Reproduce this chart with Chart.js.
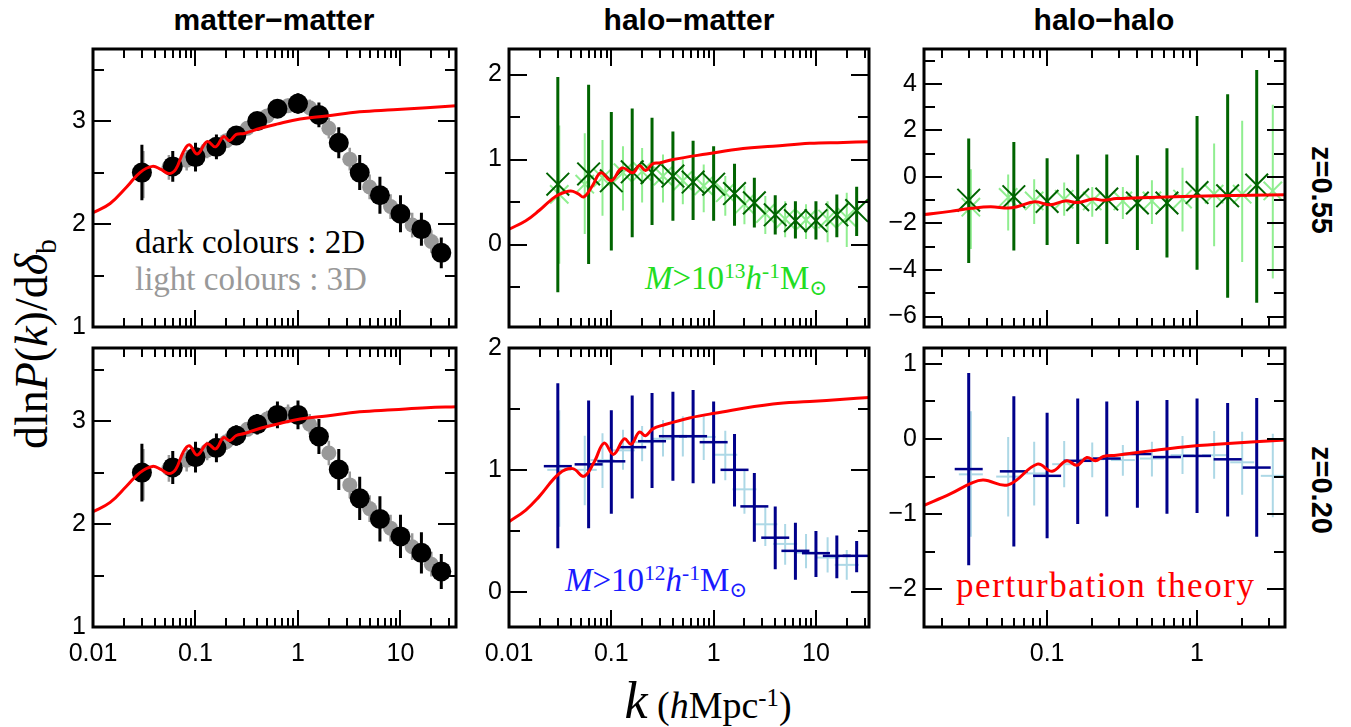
<!DOCTYPE html>
<html>
<head>
<meta charset="utf-8">
<script src="https://cdn.jsdelivr.net/npm/chart.js@4.4.1/dist/chart.umd.min.js"></script>
<style>
body { margin: 0; background: #fff; }
#fig { position: relative; width: 1351px; height: 727px; overflow: hidden; font-family: "Liberation Sans", Arial, sans-serif; }
#fig canvas { position: absolute; }
.lbl { position: absolute; white-space: nowrap; line-height: 1; }
.title { font-size: 30px; font-weight: bold; transform: translateX(-50%); }
.side { font-size: 29px; font-weight: bold; transform: translate(-50%, -50%) rotate(90deg); }
.serif { font-family: "Liberation Serif", "DejaVu Serif", serif; }
.ylab { font-size: 46px; transform: translate(-50%, -50%) rotate(-90deg); }
.xlab { font-size: 38px; transform: translateX(-50%); }
.sup { position: relative; top: -0.5em; font-size: 0.65em; }
.sub { position: relative; top: 0.3em; font-size: 0.65em; }
</style>
</head>
<body>
<div id="fig">
  <div class="lbl title" style="left:274px;top:5px">matter−matter</div>
  <div class="lbl title" style="left:689px;top:5px">halo−matter</div>
  <div class="lbl title" style="left:1104px;top:5px">halo−halo</div>
  <div class="lbl side" style="left:1321px;top:190px">z=0.55</div>
  <div class="lbl side" style="left:1321px;top:490px">z=0.20</div>
  <div class="lbl ylab serif" style="left:32px;top:344px">dln<i>P</i>(<i>k</i>)/d<i>δ</i><span class="sub">b</span></div>
  <div class="lbl xlab serif" style="left:708px;top:675px"><i style="font-size:52px">k</i> (<i>h</i>Mpc<span class="sup">-1</span>)</div>
  <div class="lbl serif" style="left:135px;top:226px;font-size:33px;color:#000">dark colours : 2D</div>
  <div class="lbl serif" style="left:135px;top:263px;font-size:33px;color:#999">light colours : 3D</div>
  <div class="lbl serif" style="left:645px;top:262px;font-size:33px;color:#22dd22"><i>M</i>&gt;10<span class="sup">13</span><i>h</i><span class="sup">-1</span>M<span class="sub">⊙</span></div>
  <div class="lbl serif" style="left:565px;top:564px;font-size:33px;color:#1a1aff"><i>M</i>&gt;10<span class="sup">12</span><i>h</i><span class="sup">-1</span>M<span class="sub">⊙</span></div>
  <div class="lbl serif" style="left:956px;top:568px;font-size:35px;letter-spacing:1.6px;color:#ff0000">perturbation theory</div>
</div>
<script>
// k bins (h/Mpc): 2D measurements and 3D measurements
const k2D = [0.03, 0.06, 0.1, 0.16, 0.25, 0.4, 0.63, 1.0, 1.6, 2.5, 4.0, 6.3, 10, 16, 25];
const k3D = [0.031, 0.055, 0.082, 0.13, 0.2, 0.32, 0.5, 0.8, 1.3, 2.0, 3.2, 5.0, 8.0, 13, 20];
const kHalo2D = [0.03, 0.06, 0.1, 0.16, 0.25, 0.4, 0.63, 1.0, 1.6, 2.5];
const kHalo3D = [0.031, 0.055, 0.082, 0.13, 0.2, 0.32, 0.5, 0.8, 1.3, 2.0, 3.2];

// matter-matter, z=0.55
const mm055_2D = [2.50, 2.56, 2.65, 2.75, 2.86, 3.00, 3.12, 3.17, 3.06, 2.79, 2.50, 2.28, 2.10, 1.95, 1.72];
const mm055_2Derr = [0.27, 0.15, 0.14, 0.12, 0.09, 0.07, 0.08, 0.10, 0.12, 0.15, 0.17, 0.18, 0.18, 0.16, 0.15];
const mm055_3D = [2.48, 2.55, 2.62, 2.72, 2.81, 2.93, 3.05, 3.15, 3.13, 2.93, 2.63, 2.36, 2.17, 1.99, 1.83];
const mm055_3Derr = [0.23, 0.12, 0.10, 0.08, 0.07, 0.06, 0.06, 0.07, 0.08, 0.10, 0.11, 0.12, 0.12, 0.12, 0.11];
// matter-matter, z=0.20
const mm020_2D = [2.50, 2.55, 2.65, 2.74, 2.86, 2.97, 3.06, 3.06, 2.85, 2.53, 2.25, 2.05, 1.88, 1.72, 1.54];
const mm020_2Derr = [0.28, 0.16, 0.15, 0.14, 0.10, 0.10, 0.13, 0.14, 0.17, 0.20, 0.21, 0.22, 0.21, 0.20, 0.17];
const mm020_3D = [2.48, 2.54, 2.62, 2.71, 2.80, 2.92, 3.02, 3.07, 2.97, 2.69, 2.38, 2.15, 1.96, 1.78, 1.61];
const mm020_3Derr = [0.25, 0.13, 0.11, 0.09, 0.08, 0.07, 0.08, 0.09, 0.10, 0.12, 0.13, 0.13, 0.13, 0.13, 0.12];

// halo-matter, z=0.55 (M > 1e13)
const hm055_2D = [0.71, 0.83, 0.75, 0.855, 0.845, 0.805, 0.735, 0.71, 0.60, 0.49, 0.35, 0.28, 0.28, 0.35, 0.40];
const hm055_2Dlo = [-0.56, -0.23, -0.07, 0.085, 0.23, 0.28, 0.29, 0.28, 0.22, 0.20, 0.117, 0.07, 0.06, 0.085, 0.10];
const hm055_2Dhi = [1.97, 1.88, 1.56, 1.60, 1.49, 1.33, 1.22, 1.155, 0.95, 0.785, 0.58, 0.51, 0.51, 0.59, 0.68];
const hm055_3D = [0.59, 0.71, 0.785, 0.845, 0.86, 0.805, 0.75, 0.69, 0.61, 0.475, 0.365, 0.30, 0.29, 0.30, 0.32];
const hm055_3Dlo = [-0.225, 0.125, 0.34, 0.40, 0.495, 0.495, 0.475, 0.38, 0.34, 0.24, 0.125, 0.085, 0.066, 0.027, -0.03];
const hm055_3Dhi = [1.40, 1.31, 1.23, 1.155, 1.135, 1.06, 1.0, 0.94, 0.805, 0.69, 0.57, 0.51, 0.475, 0.51, 0.61];
// halo-matter, z=0.20 (M > 1e12)
const hm020_2D = [1.03, 1.045, 1.07, 1.186, 1.235, 1.276, 1.276, 1.227, 1.0, 0.70, 0.443, 0.335, 0.316, 0.294, 0.294];
const hm020_2Dlo = [0.357, 0.52, 0.64, 0.765, 0.85, 0.91, 0.89, 0.887, 0.70, 0.41, 0.185, 0.098, 0.12, 0.11, 0.16];
const hm020_2Dhi = [1.71, 1.57, 1.49, 1.61, 1.63, 1.64, 1.655, 1.56, 1.295, 0.974, 0.70, 0.566, 0.498, 0.46, 0.416];
const hm020_3D = [1.0, 1.0, 1.08, 1.16, 1.227, 1.255, 1.27, 1.27, 1.124, 0.84, 0.553, 0.392, 0.32, 0.28, 0.22];
const hm020_3Dlo = [0.533, 0.71, 0.85, 1.0, 1.07, 1.11, 1.11, 1.08, 0.914, 0.64, 0.375, 0.22, 0.193, 0.158, 0.098];
const hm020_3Dhi = [1.49, 1.28, 1.30, 1.33, 1.36, 1.41, 1.44, 1.445, 1.32, 1.0, 0.70, 0.555, 0.473, 0.446, 0.343];

// halo-halo, z=0.55
const hh055_2D = [-1.0, -0.85, -1.05, -0.98, -0.95, -1.12, -1.12, -0.67, -0.81, -0.35];
const hh055_2Dlo = [-3.7, -3.16, -2.92, -2.88, -2.88, -3.14, -3.46, -3.99, -5.19, -5.41];
const hh055_2Dhi = [1.65, 1.5, 0.8, 0.97, 0.97, 0.93, 1.23, 2.62, 3.55, 4.6];
const hh055_3D = [-1.3, -0.88, -1.03, -0.96, -1.03, -1.03, -1.03, -0.95, -0.74, -0.74, -0.6];
const hh055_3Dlo = [-3.1, -2.3, -2.02, -1.67, -1.71, -1.81, -2.02, -2.34, -2.98, -3.66, -4.37];
const hh055_3Dhi = [0.33, 0.11, -0.1, -0.24, -0.43, -0.43, -0.14, 0.4, 1.44, 2.42, 3.1];
// halo-halo, z=0.20
const hh020_2D = [-0.40, -0.43, -0.49, -0.29, -0.26, -0.20, -0.24, -0.225, -0.27, -0.38];
const hh020_2Dlo = [-1.68, -1.43, -1.32, -1.13, -1.03, -0.915, -0.995, -0.985, -1.03, -1.30];
const hh020_2Dhi = [0.876, 0.568, 0.35, 0.537, 0.50, 0.51, 0.52, 0.537, 0.48, 0.546];
const hh020_3D = [-0.47, -0.50, -0.458, -0.335, -0.27, -0.28, -0.26, -0.215, -0.215, -0.31, -0.49];
const hh020_3Dlo = [-1.30, -1.03, -0.885, -0.643, -0.51, -0.489, -0.50, -0.467, -0.53, -0.74, -1.04];
const hh020_3Dhi = [0.37, 0.026, -0.035, -0.026, -0.048, -0.079, -0.035, 0.04, 0.106, 0.097, 0.07];

// perturbation theory curves
const kPT_mm = [0.01, 0.0147, 0.0213, 0.0287, 0.038, 0.046, 0.055, 0.064, 0.076, 0.087, 0.104, 0.13, 0.157, 0.188, 0.215, 0.25, 0.3, 0.43, 0.62, 1.05, 1.9, 4.0, 8.5, 18, 35];
const pt_mm055 = [2.11, 2.20, 2.36, 2.50, 2.56, 2.53, 2.49, 2.53, 2.70, 2.77, 2.68, 2.80, 2.75, 2.85, 2.81, 2.87, 2.88, 2.93, 2.97, 3.02, 3.05, 3.09, 3.11, 3.13, 3.15];
const pt_mm020 = [2.12, 2.21, 2.37, 2.50, 2.56, 2.53, 2.49, 2.53, 2.70, 2.76, 2.67, 2.78, 2.73, 2.84, 2.81, 2.86, 2.88, 2.93, 2.97, 3.02, 3.05, 3.09, 3.11, 3.13, 3.14];
const kPT_hm = [0.01, 0.0146, 0.0197, 0.0255, 0.031, 0.04, 0.047, 0.054, 0.066, 0.079, 0.1, 0.127, 0.163, 0.188, 0.216, 0.254, 0.296, 0.4, 0.85, 1.94, 3.8, 8.7, 18.5, 33];
const pt_hm055 = [0.18, 0.28, 0.40, 0.52, 0.59, 0.63, 0.60, 0.56, 0.70, 0.845, 0.75, 0.90, 0.845, 0.93, 0.87, 0.95, 0.96, 1.0, 1.065, 1.13, 1.155, 1.19, 1.20, 1.21];
const kPT_hm2 = [0.01, 0.0146, 0.0197, 0.031, 0.042, 0.054, 0.068, 0.085, 0.105, 0.134, 0.156, 0.188, 0.216, 0.254, 0.33, 0.58, 1.02, 3.8, 8.7, 18.5, 34];
const pt_hm020 = [0.574, 0.67, 0.78, 0.97, 1.01, 0.947, 1.064, 1.22, 1.127, 1.255, 1.21, 1.31, 1.28, 1.336, 1.37, 1.426, 1.464, 1.54, 1.56, 1.58, 1.594];
const kPT_hh = [0.015, 0.0226, 0.031, 0.042, 0.055, 0.063, 0.083, 0.105, 0.132, 0.16, 0.204, 0.237, 0.29, 0.486, 1.35, 3.9];
const pt_hh055 = [-1.62, -1.48, -1.35, -1.28, -1.34, -1.28, -1.07, -1.2, -1.03, -1.1, -0.95, -1.0, -0.93, -0.88, -0.81, -0.77];
const kPT_hh2 = [0.015, 0.0226, 0.031, 0.0376, 0.055, 0.086, 0.108, 0.135, 0.158, 0.184, 0.21, 0.237, 0.29, 0.486, 0.81, 1.35, 3.9];
const pt_hh020 = [-0.885, -0.73, -0.59, -0.546, -0.61, -0.335, -0.43, -0.29, -0.35, -0.247, -0.29, -0.233, -0.215, -0.158, -0.106, -0.07, -0.013];

// axis ticks
const xLabelsWide = [0.01, 0.1, 1, 10];
const xLabelsHalo = [0.1, 1];
const yTicksMM = [1, 2, 3], yMinorMM = [1.5, 2.5, 3.5];
const yTicksHM055 = [0, 1, 2], yMinorHM055 = [-0.5, 0.5, 1.5];
const yTicksHH055 = [-6, -4, -2, 0, 2, 4], yMinorHH055 = [-5, -3, -1, 1, 3, 5];
const yTicksHM020 = [0, 1, 2], yMinorHM020 = [0.5, 1.5];
const yTicksHH020 = [-2, -1, 0, 1], yMinorHH020 = [-1.5, -0.5, 0.5];

const PAD_L = 70, PAD_T = 20, PAD_R = 20, PAD_B = 45;
const RED = '#ff0000';

function pts(ks, ys) { return ks.map((k, i) => ({ x: k, y: ys[i] })); }

function series(ks, ys, lo, hi, st) {
  return {
    data: pts(ks, ys), errLo: lo, errHi: hi, errColor: st.color, errWidth: st.errWidth,
    pointStyle: st.shape, pointRadius: st.r, backgroundColor: st.color,
    borderColor: st.color, borderWidth: st.bw, order: st.order
  };
}

function curve(ks, ys) {
  return { data: pts(ks, ys), showLine: true, borderColor: RED, borderWidth: 3, pointRadius: 0, tension: 0.4, order: 0 };
}

const black = { color: '#000', shape: 'circle', r: 10, bw: 0, errWidth: 3, order: 1 };
const grey = { color: '#999', shape: 'circle', r: 7.5, bw: 0, errWidth: 2.5, order: 2 };
const dkGreen = { color: '#006400', shape: 'crossRot', r: 16, bw: 2, errWidth: 3, order: 1 };
const ltGreen = { color: '#90ee90', shape: 'crossRot', r: 13, bw: 2, errWidth: 2, order: 2 };
const dkBlue = { color: '#00008b', shape: 'line', r: 14, bw: 2.5, errWidth: 3, order: 1 };
const ltBlue = { color: '#add8e6', shape: 'line', r: 12, bw: 2, errWidth: 2, order: 2 };

const lo = (ys, es) => ys.map((y, i) => y - es[i]);
const hi = (ys, es) => ys.map((y, i) => y + es[i]);

const panels = [
  { rect: [93, 47, 456, 327], x: [0.01, 34.8], y: [1, 3.7], xLabels: null, yTicks: yTicksMM, yMinor: yMinorMM,
    datasets: [series(k3D, mm055_3D, lo(mm055_3D, mm055_3Derr), hi(mm055_3D, mm055_3Derr), grey),
               series(k2D, mm055_2D, lo(mm055_2D, mm055_2Derr), hi(mm055_2D, mm055_2Derr), black),
               curve(kPT_mm, pt_mm055)] },
  { rect: [509, 47, 869, 327], x: [0.01, 33], y: [-0.97, 2.3], xLabels: null, yTicks: yTicksHM055, yMinor: yMinorHM055,
    datasets: [series(k3D, hm055_3D, hm055_3Dlo, hm055_3Dhi, ltGreen),
               series(k2D, hm055_2D, hm055_2Dlo, hm055_2Dhi, dkGreen),
               curve(kPT_hm, pt_hm055)] },
  { rect: [924, 47, 1285, 327], x: [0.0151, 3.86], y: [-6.45, 5.5], xLabels: null, yTicks: yTicksHH055, yMinor: yMinorHH055,
    datasets: [series(kHalo3D, hh055_3D, hh055_3Dlo, hh055_3Dhi, ltGreen),
               series(kHalo2D, hh055_2D, hh055_2Dlo, hh055_2Dhi, dkGreen),
               curve(kPT_hh, pt_hh055)] },
  { rect: [93, 346, 456, 627], x: [0.01, 34.8], y: [1, 3.71], xLabels: xLabelsWide, yTicks: yTicksMM, yMinor: yMinorMM,
    datasets: [series(k3D, mm020_3D, lo(mm020_3D, mm020_3Derr), hi(mm020_3D, mm020_3Derr), grey),
               series(k2D, mm020_2D, lo(mm020_2D, mm020_2Derr), hi(mm020_2D, mm020_2Derr), black),
               curve(kPT_mm, pt_mm020)] },
  { rect: [509, 346, 869, 627], x: [0.01, 33], y: [-0.29, 2.0], xLabels: xLabelsWide, yTicks: yTicksHM020, yMinor: yMinorHM020,
    datasets: [series(k3D, hm020_3D, hm020_3Dlo, hm020_3Dhi, ltBlue),
               series(k2D, hm020_2D, hm020_2Dlo, hm020_2Dhi, dkBlue),
               curve(kPT_hm2, pt_hm020)] },
  { rect: [924, 346, 1285, 627], x: [0.0151, 3.86], y: [-2.5, 1.21], xLabels: xLabelsHalo, yTicks: yTicksHH020, yMinor: yMinorHH020,
    datasets: [series(kHalo3D, hh020_3D, hh020_3Dlo, hh020_3Dhi, ltBlue),
               series(kHalo2D, hh020_2D, hh020_2Dlo, hh020_2Dhi, dkBlue),
               curve(kPT_hh2, pt_hh020)] }
];

// vertical error bars, drawn just before each dataset's markers
const errorBars = {
  id: 'errorBars',
  beforeDatasetDraw(chart, args) {
    const ds = chart.data.datasets[args.index];
    if (!ds.errLo) return;
    const { ctx, chartArea: a, scales: { x, y } } = chart;
    ctx.save();
    ctx.beginPath();
    ctx.rect(a.left, a.top, a.right - a.left, a.bottom - a.top);
    ctx.clip();
    ctx.strokeStyle = ds.errColor;
    ctx.lineWidth = ds.errWidth;
    ctx.beginPath();
    ds.data.forEach((p, i) => {
      const px = x.getPixelForValue(p.x);
      ctx.moveTo(px, y.getPixelForValue(ds.errLo[i]));
      ctx.lineTo(px, y.getPixelForValue(ds.errHi[i]));
    });
    ctx.stroke();
    ctx.restore();
  }
};

// box + inward ticks on all four sides
const frame = {
  id: 'frame',
  afterDatasetsDraw(chart, args, opts) {
    const { ctx, chartArea: a, scales: { x, y } } = chart;
    ctx.save();
    ctx.strokeStyle = '#000';
    ctx.lineWidth = 2;
    ctx.beginPath();
    for (let e = -3; e <= 2; e++) {
      for (let m = 1; m <= 9; m++) {
        const v = m * Math.pow(10, e);
        if (v < x.min * 0.999 || v > x.max * 1.001) continue;
        const px = Math.round(x.getPixelForValue(v));
        const len = m === 1 ? 17 : 9;
        ctx.moveTo(px, a.bottom); ctx.lineTo(px, a.bottom - len);
        ctx.moveTo(px, a.top); ctx.lineTo(px, a.top + len);
      }
    }
    const yt = (list, len) => list.forEach(v => {
      const py = Math.round(y.getPixelForValue(v));
      ctx.moveTo(a.left, py); ctx.lineTo(a.left + len, py);
      ctx.moveTo(a.right, py); ctx.lineTo(a.right - len, py);
    });
    yt(opts.yTicks, 18);
    yt(opts.yMinor, 11);
    ctx.stroke();
    ctx.lineWidth = 3;
    ctx.strokeRect(a.left, a.top, a.right - a.left, a.bottom - a.top);
    ctx.restore();
  }
};

const fig = document.getElementById('fig');
const tickFont = { family: 'Liberation Sans', size: 25 };
const fmt = v => (v < 0 ? '\u2212' + (-v) : String(v));

panels.forEach(p => {
  const [l, t, r, b] = p.rect;
  const W = r - l + PAD_L + PAD_R, H = b - t + PAD_T + PAD_B;
  const c = document.createElement('canvas');
  c.width = W; c.height = H;
  c.style.left = (l - PAD_L) + 'px'; c.style.top = (t - PAD_T) + 'px';
  c.style.width = W + 'px'; c.style.height = H + 'px';
  fig.appendChild(c);
  new Chart(c, {
    type: 'scatter',
    data: { datasets: p.datasets },
    options: {
      responsive: false, animation: false, devicePixelRatio: 1, events: [],
      layout: { padding: { left: 0, top: PAD_T, right: PAD_R, bottom: 0 } },
      plugins: { legend: { display: false }, tooltip: { enabled: false },
                 frame: { yTicks: p.yTicks, yMinor: p.yMinor } },
      scales: {
        x: {
          type: 'logarithmic', min: p.x[0], max: p.x[1],
          grid: { display: false, drawTicks: false }, border: { display: false },
          afterBuildTicks: s => { s.ticks = (p.xLabels || []).map(v => ({ value: v })); },
          afterFit: s => { s.height = PAD_B; },
          ticks: { display: !!p.xLabels, autoSkip: false, maxRotation: 0, padding: 12,
                   font: tickFont, color: '#000', callback: v => String(v) }
        },
        y: {
          type: 'linear', min: p.y[0], max: p.y[1],
          grid: { display: false, drawTicks: false }, border: { display: false },
          afterBuildTicks: s => { s.ticks = p.yTicks.map(v => ({ value: v })); },
          afterFit: s => { s.width = PAD_L; },
          ticks: { autoSkip: false, padding: 7, font: tickFont, color: '#000', callback: fmt }
        }
      }
    },
    plugins: [errorBars, frame]
  });
});
</script>
</body>
</html>
